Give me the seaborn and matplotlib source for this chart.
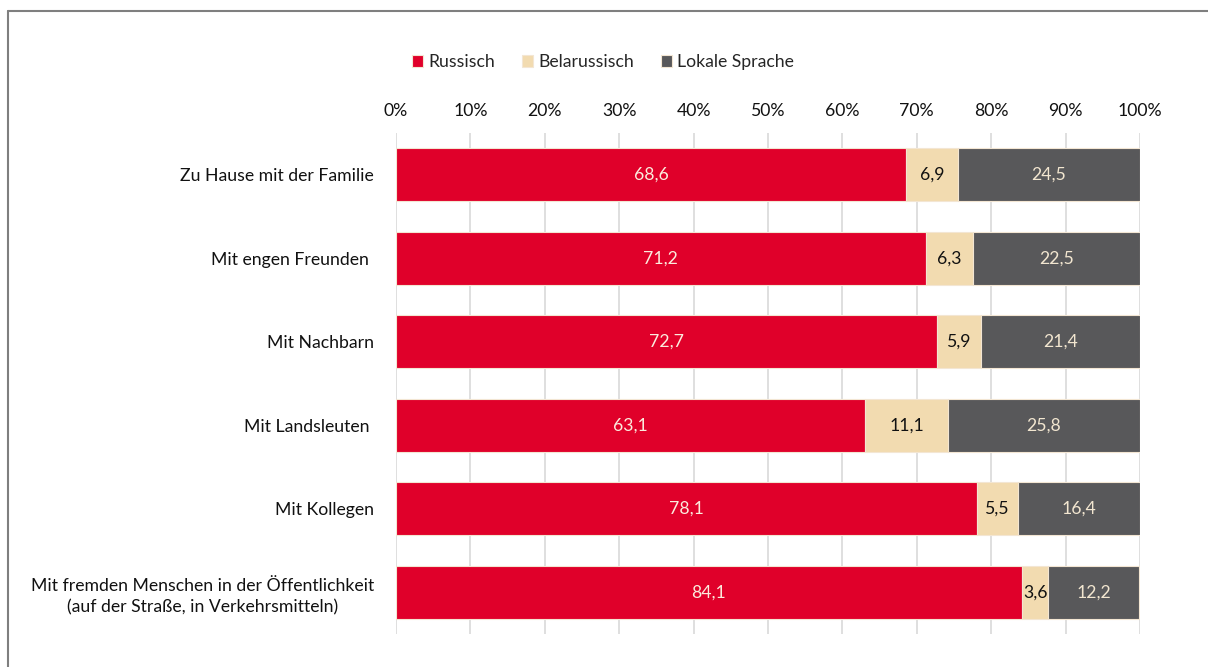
import matplotlib
matplotlib.use("Agg")
import matplotlib.pyplot as plt
from matplotlib.lines import Line2D
from matplotlib.ticker import FuncFormatter, MultipleLocator
import seaborn as sns
import pandas as pd

categories = [
    "Zu Hause mit der Familie",
    "Mit engen Freunden ",
    "Mit Nachbarn",
    "Mit Landsleuten ",
    "Mit Kollegen",
    "Mit fremden Menschen in der Öffentlichkeit\n(auf der Straße, in Verkehrsmitteln)",
]
series_names = ["Russisch", "Belarussisch", "Lokale Sprache"]
russisch = [68.6, 71.2, 72.7, 63.1, 78.1, 84.1]
belarussisch = [6.9, 6.3, 5.9, 11.1, 5.5, 3.6]
lokale = [24.5, 22.5, 21.4, 25.8, 16.4, 12.2]

colors = ["#E0002A", "#F2DBB0", "#58585A"]
text_colors = ["#FBEBDD", "#111111", "#F2E6D0"]

sns.set_theme(style="white")
plt.rcParams["font.family"] = ["Lato", "DejaVu Sans"]

FS = 12.7

fig = plt.figure(figsize=(12.08, 6.67), dpi=100)
ax = fig.add_axes([396 / 1208, 1 - 634 / 667, (1140 - 396) / 1208, (634 - 133) / 667])

values = [russisch, belarussisch, lokale]
left = [0.0] * len(categories)
for name, vals, col, tcol in zip(series_names, values, colors, text_colors):
    df = pd.DataFrame({"cat": categories, "val": vals, "left": left})
    ax.barh(df["cat"], df["val"], left=df["left"], height=0.63, color=col,
            edgecolor="#F3E6D3", linewidth=0.8, label=name, zorder=3)
    for i, (v, l) in enumerate(zip(vals, left)):
        ax.text(l + v / 2, i, f"{v:.1f}".replace(".", ","), ha="center", va="center",
                fontsize=FS, color=tcol, zorder=4)
    left = [a + b for a, b in zip(left, vals)]

ax.set_xlim(0, 100)
ax.set_ylim(5.5, -0.5)
ax.xaxis.set_major_locator(MultipleLocator(10))
ax.xaxis.set_major_formatter(FuncFormatter(lambda x, p: f"{int(round(x))}%"))
ax.xaxis.tick_top()
ax.tick_params(axis="x", length=0, pad=10, labelsize=FS, colors="#111111")
ax.tick_params(axis="y", length=0, pad=16, labelsize=FS, colors="#111111")
for lbl in ax.get_yticklabels():
    lbl.set_multialignment("center")
    lbl.set_linespacing(1.4)
ax.grid(axis="x", color="#D9D9D9", linewidth=1.2, zorder=0)
ax.grid(axis="y", visible=False)
for s in ax.spines.values():
    s.set_visible(False)
ax.set_xlabel("")
ax.set_ylabel("")

leg = fig.legend(loc="center", bbox_to_anchor=(603 / 1208, 1 - 62 / 667), ncol=3,
                 frameon=False, fontsize=FS, handlelength=0.65, handleheight=0.65,
                 handletextpad=0.3, columnspacing=1.5)

# frame lines
fig.add_artist(Line2D([8 / 1208, 8 / 1208], [0, 1 - 10.5 / 667], color="#7F7F7F", linewidth=1.5))
fig.add_artist(Line2D([8 / 1208, 1], [1 - 10.5 / 667, 1 - 10.5 / 667], color="#7F7F7F", linewidth=1.5))

fig.savefig("out.png", dpi=100)
